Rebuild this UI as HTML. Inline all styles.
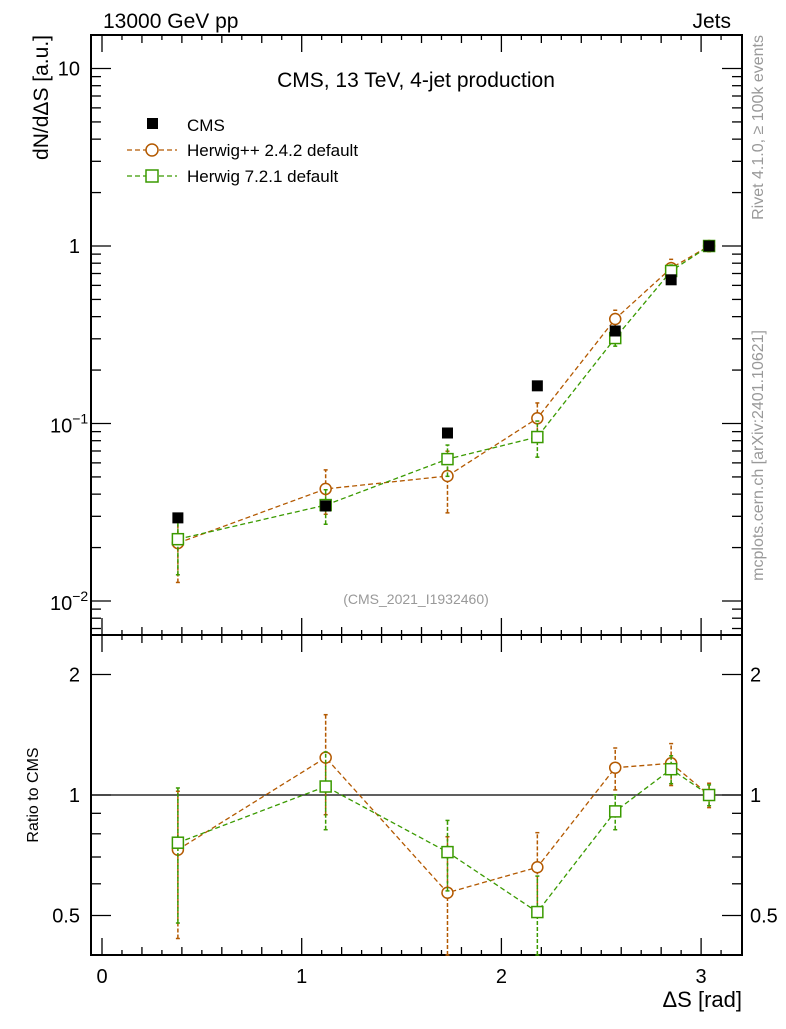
<!DOCTYPE html>
<html><head><meta charset="utf-8"><style>
body{margin:0;background:#fff}
svg{font-family:"Liberation Sans",sans-serif}
</style></head><body>
<svg id="c" width="786" height="1024" viewBox="0 0 786 1024"></svg>
<script>
const xs=[0.38,1.12,1.73,2.18,2.57,2.85,3.04];
const cmsVals=[0.0294,0.0343,0.0884,0.163,0.332,0.645,1.0];
const hppVals=[0.0212,0.0428,0.0506,0.107,0.388,0.751,1.0];
const h7Vals=[0.0223,0.0347,0.063,0.0839,0.303,0.723,1.0];
const hppRatio=[0.73,1.24,0.57,0.66,1.17,1.20,1.0];
const h7Ratio=[0.76,1.05,0.72,0.51,0.91,1.16,1.0];
const hppErr=[0.40,0.28,0.38,0.22,0.12,0.12,0.07];
const h7Err=[0.37,0.22,0.20,0.23,0.10,0.08,0.06];
const xTicks=[0,1,2,3];
const yDecades=[-2,-1,0,1];
const rTicks=[0.5,1,2];

const L=91,R=742,T=35,M=635,B=955;
const X=v=>102+v*199.7;
const Y=v=>246-Math.log10(v)*177.5;
const YR=v=>795-Math.log2(v)*120.5;
const svg=document.getElementById('c');
const NS='http://www.w3.org/2000/svg';
function mk(t,a,p){const e=document.createElementNS(NS,t);for(const k in a)e.setAttribute(k,a[k]);(p||svg).appendChild(e);return e;}
function txt(s,x,y,a,p){const e=mk('text',Object.assign({x:x,y:y},a),p);e.textContent=s;return e;}

const f1=mk('rect',{x:L,y:T,width:R-L,height:M-T,fill:'none',stroke:'#000','stroke-width':2});

const f2=mk('rect',{x:L,y:M,width:R-L,height:B-M,fill:'none',stroke:'#000','stroke-width':2});


const xt=mk('g',{stroke:'#000','stroke-width':1.3});

for(let i=-1;i<=32;i++){const v=i/10,x=X(v);if(x<=L+1||x>=R-1)continue;
 const len=(i%10===0)?17:(i%2===0?8:5);
 for(const [y0,d] of [[M,-1],[T,1],[B,-1],[M,1]]) mk('line',{x1:x,x2:x,y1:y0,y2:y0+d*len},xt);}
xTicks.forEach(v=>{const t=txt(String(v),X(v),983,{'font-size':20,'text-anchor':'middle'});
 });

const yt=mk('g',{stroke:'#000','stroke-width':1.3});

for(let d=-3;d<=1;d++)for(let k=1;k<10;k++){const v=k*Math.pow(10,d),y=Y(v);if(y<T+1||y>M-1)continue;
 const len=k===1?20:10;mk('line',{x1:L,x2:L+len,y1:y,y2:y},yt);mk('line',{x1:R,x2:R-len,y1:y,y2:y},yt);}
yDecades.forEach(d=>{const y=Y(Math.pow(10,d));let t;
 if(d===0)t=txt('1',80,y+7,{'font-size':20,'text-anchor':'end'});
 else if(d===1)t=txt('10',80,y+7,{'font-size':20,'text-anchor':'end'});
 else{t=txt('10',50,y+9,{'font-size':20});const s=mk('tspan',{dy:-9,'font-size':14},t);s.textContent='\u2212'+(-d);}
 });

const rt=mk('g',{stroke:'#000','stroke-width':1.3});

[0.4,0.5,0.6,0.7,0.8,0.9,1,2,3].forEach(v=>{const y=YR(v);if(y<M+1||y>B-1)return;
 const len=(v===0.5||v===1||v===2)?20:10;mk('line',{x1:L,x2:L+len,y1:y,y2:y},rt);mk('line',{x1:R,x2:R-len,y1:y,y2:y},rt);});
rTicks.forEach(v=>{const s=String(v);
 const a=txt(s,80,YR(v)+7,{'font-size':20,'text-anchor':'end'});
 const b=txt(s,750,YR(v)+7,{'font-size':20});});
const one=mk('line',{x1:L,x2:R,y1:YR(1),y2:YR(1),stroke:'#000','stroke-width':1.3});


function series(vals,err,yf,color,marker,name){
 const g=mk('g',{});
 mk('polyline',{points:xs.map((x,i)=>X(x)+','+yf(vals[i])).join(' '),fill:'none',stroke:color,'stroke-width':1.3,'stroke-dasharray':'5,3'},g);
 xs.forEach((x,i)=>{const cx=X(x),cy=yf(vals[i]);
  const yl=Math.min(yf(vals[i]*(1-err[i])),B),yh=Math.max(yf(vals[i]*(1+err[i])),yf===Y?T:M);
  mk('line',{x1:cx,x2:cx,y1:yl,y2:yh,stroke:color,'stroke-width':1.5,'stroke-dasharray':'4,2'},g);
  mk('line',{x1:cx-2,x2:cx+2,y1:yl,y2:yl,stroke:color,'stroke-width':1.5},g);
  mk('line',{x1:cx-2,x2:cx+2,y1:yh,y2:yh,stroke:color,'stroke-width':1.5},g);
  let m;if(marker==='o')m=mk('circle',{cx:cx,cy:cy,r:5.5,fill:'#fff',stroke:color,'stroke-width':1.5},g);
  else m=mk('rect',{x:cx-5.5,y:cy-5.5,width:11,height:11,fill:'#fff',stroke:color,'stroke-width':1.5},g);
  });
}
const c1='#b35900',c2='#3a9a00';
series(hppVals,hppErr,Y,c1,'o','herwigpp-series');
series(h7Vals,h7Err,Y,c2,'s','herwig7-series');
series(hppRatio,hppErr,YR,c1,'o','herwigpp-ratio');
series(h7Ratio,h7Err,YR,c2,'s','herwig7-ratio');
const cg=mk('g',{});
xs.forEach((x,i)=>{const r=mk('rect',{x:X(x)-5.5,y:Y(cmsVals[i])-5.5,width:11,height:11,fill:'#000'},cg);
 });

function lab(s,x,y,a,n){const t=txt(s,x,y,a);return t;}
lab('13000 GeV pp',103,28,{'font-size':21},'energy-label');
lab('Jets',731,28,{'font-size':21,'text-anchor':'end'},'process-label');
lab('CMS, 13 TeV, 4-jet production',416,87,{'font-size':21,'text-anchor':'middle'},'plot-title');
lab('(CMS_2021_I1932460)',416,604,{'font-size':14,fill:'#999','text-anchor':'middle'},'analysis-id');
lab('\u0394S [rad]',742,1007,{'font-size':22,'text-anchor':'end'},'x-axis-title');
lab('dN/d\u0394S [a.u.]',48,35,{'font-size':21,'text-anchor':'end',transform:'rotate(-90 48 35)'},'y-axis-title');
lab('Ratio to CMS',38,795,{'font-size':16,'text-anchor':'middle',transform:'rotate(-90 38 795)'},'ratio-axis-title');
lab('Rivet 4.1.0, \u2265 100k events',763,35,{'font-size':16,fill:'#999','text-anchor':'end',transform:'rotate(-90 763 35)'},'rivet-label');
lab('mcplots.cern.ch [arXiv:2401.10621]',763,330,{'font-size':16,fill:'#999','text-anchor':'end',transform:'rotate(-90 763 330)'},'mcplots-label');

const lg=mk('g',{});
mk('rect',{x:147,y:118,width:11,height:11,fill:'#000'},lg);
txt('CMS',187,131,{'font-size':17},lg);
mk('line',{x1:127,x2:177,y1:150,y2:150,stroke:c1,'stroke-width':1.3,'stroke-dasharray':'5,3'},lg);
mk('circle',{cx:152,cy:150,r:6,fill:'#fff',stroke:c1,'stroke-width':1.5},lg);
txt('Herwig++ 2.4.2 default',187,156,{'font-size':17},lg);
mk('line',{x1:127,x2:177,y1:176,y2:176,stroke:c2,'stroke-width':1.3,'stroke-dasharray':'5,3'},lg);
mk('rect',{x:146,y:170,width:12,height:12,fill:'#fff',stroke:c2,'stroke-width':1.5},lg);
txt('Herwig 7.2.1 default',187,182,{'font-size':17},lg);
</script>
</body></html>
